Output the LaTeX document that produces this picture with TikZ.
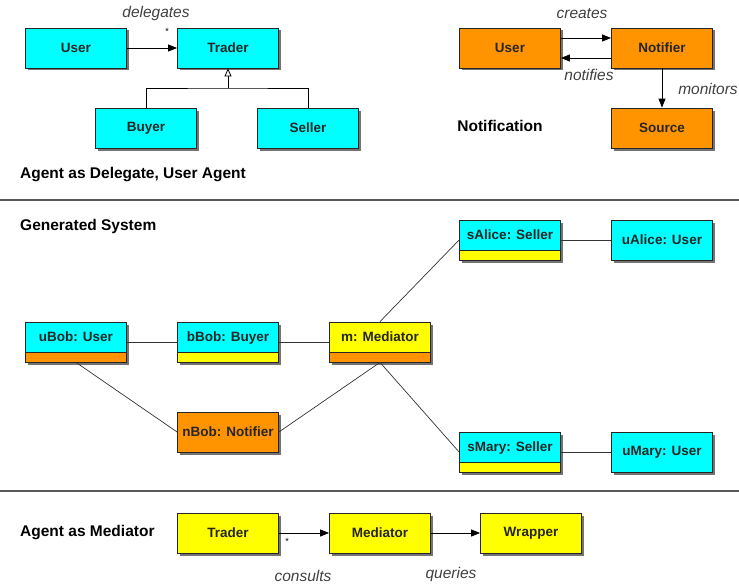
\documentclass[tikz,border=0pt]{standalone}
\usepackage{fontspec}
\setmainfont{Liberation Sans}
\usetikzlibrary{arrows.meta,shadows}
\definecolor{agentcyan}{HTML}{00FFFF}
\definecolor{agentorange}{HTML}{FF9400}
\definecolor{agentyellow}{HTML}{FFFF00}

\tikzset{
  box/.style={draw=black!85, line width=0.8pt, fill=#1, minimum width=101pt, minimum height=40pt,
    inner sep=0pt, text=black!85, font=\fontsize{13.5}{16}\selectfont\bfseries,
    drop shadow={shadow xshift=2.5pt, shadow yshift=-2.5pt, fill=black!55, opacity=1}},
  split/.style={text height=10pt, text depth=10.5pt,
    path picture={
      \fill[#1] (path picture bounding box.south west) rectangle ([yshift=10pt]path picture bounding box.south east);
      \draw[black!85, line width=0.8pt] ([yshift=10pt]path picture bounding box.south west) -- ([yshift=10pt]path picture bounding box.south east);}},
  arr/.style={-{Triangle[length=9pt,width=7pt]}, line width=0.8pt},
  link/.style={line width=0.7pt, black!80},
  lbl/.style={inner sep=0pt, text=black!75, font=\fontsize{15.5}{18}\selectfont\itshape},
  title/.style={inner sep=0pt, anchor=west, font=\fontsize{15.5}{18}\selectfont\bfseries},
  sep/.style={line width=1.2pt, black!65}
}

\begin{document}
\begin{tikzpicture}[x=1pt,y=-1pt]
  \useasboundingbox (0,0) rectangle (739,586);

  % delegate and user agent
  \node[box=agentcyan] (user) at (76,48) {User};
  \node[box=agentcyan] (trader) at (228,48) {Trader};
  \node[box=agentcyan] (buyer) at (146,128) {Buyer};
  \node[box=agentcyan] (seller) at (308,128) {Seller};
  \coordinate (fork) at (228,88);
  \draw[arr] (user) -- (trader);
  \draw[{Triangle[open,length=8pt,width=7pt]}-, line width=0.8pt] (trader.south) -- (fork);
  \draw[line width=0.8pt] (buyer.north) |- (fork) -| (seller.north);
  \node[lbl] (delegates) at (156,13) {delegates};
  \node[inner sep=0pt, font=\small] (many) at (167,31) {*};
  \node[title] (delegtitle) at (20,175) {Agent as Delegate, User Agent};

  % notification
  \node[box=agentorange] (nuser) at (510,48) {User};
  \node[box=agentorange] (notifier) at (662,48) {Notifier};
  \node[box=agentorange] (source) at (662,128) {Source};
  \draw[arr] ([yshift=10pt]nuser.east) -- ([yshift=10pt]notifier.west);
  \draw[arr] ([yshift=-10pt]notifier.west) -- ([yshift=-10pt]nuser.east);
  \draw[arr] (notifier) -- (source);
  \node[lbl] (creates) at (582,14) {creates};
  \node[lbl] (notifies) at (589,75) {notifies};
  \node[lbl] (monitors) at (708,89) {monitors};
  \node[title, anchor=center] (notiftitle) at (500,126) {Notification};

  \draw[sep] (0,200) -- (739,200);

  % generated system
  \node[title] (gentitle) at (20,226) {Generated System};
  \node[box=agentcyan, split=agentorange] (ubob) at (76,342) {uBob: User};
  \node[box=agentcyan, split=agentyellow] (bbob) at (228,342) {bBob: Buyer};
  \node[box=agentyellow, split=agentorange] (med) at (380,342) {m: Mediator};
  \node[box=agentorange] (nbob) at (228,432) {nBob: Notifier};
  \node[box=agentcyan, split=agentyellow] (salice) at (510,240) {sAlice: Seller};
  \node[box=agentcyan] (ualice) at (662,240) {uAlice: User};
  \node[box=agentcyan, split=agentyellow] (smary) at (510,452) {sMary: Seller};
  \node[box=agentcyan] (umary) at (662,452) {uMary: User};
  \draw[link] (ubob) -- (bbob) -- (med);
  \draw[link] (ubob.south) -- (nbob.west);
  \draw[link] (med.south) -- (nbob.east);
  \draw[link] (med.north) -- (salice.west);
  \draw[link] (med.south) -- (smary.west);
  \draw[link] (salice) -- (ualice);
  \draw[link] (smary) -- (umary);

  \draw[sep] (0,491) -- (739,491);

  % mediator
  \node[title] (medtitle) at (20,533) {Agent as Mediator};
  \node[box=agentyellow] (mtrader) at (228,533) {Trader};
  \node[box=agentyellow] (mediator) at (380,533) {Mediator};
  \node[box=agentyellow] (wrapper) at (531,533) {Wrapper};
  \draw[arr] (mtrader) -- (mediator);
  \draw[arr] (mediator) -- (wrapper);
  \node[inner sep=0pt, font=\small] (mmany) at (287,541) {*};
  \node[lbl] (consults) at (303,576) {consults};
  \node[lbl] (queries) at (451,574) {queries};
\end{tikzpicture}
\end{document}
